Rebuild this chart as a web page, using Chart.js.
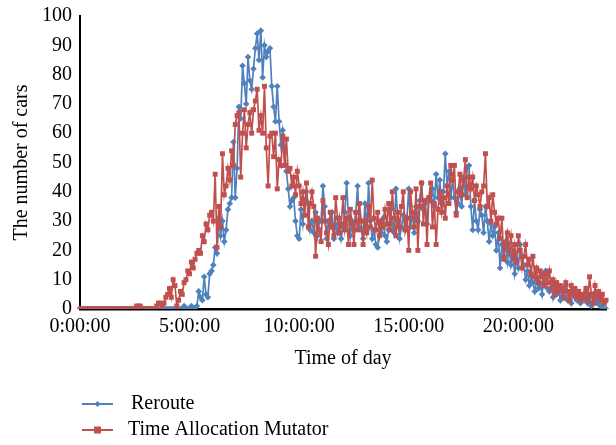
<!DOCTYPE html>
<html>
<head>
<meta charset="utf-8">
<script src="https://cdn.jsdelivr.net/npm/chart.js@4/dist/chart.umd.min.js"></script>
<style>
html,body{margin:0;padding:0;background:#fff;}
#wrap{width:616px;height:445px;position:relative;}
</style>
</head>
<body>
<div id="wrap"><canvas id="c" width="616" height="445"></canvas></div>
<script>
// Categories: time of day at 5-minute steps (0:00:00 .. 24:00:00)
const timeLabels = [];
for (let m = 0; m <= 24 * 60; m += 5) {
  const h = Math.floor(m / 60), mm = m % 60;
  timeLabels.push(h + ':' + String(mm).padStart(2, '0') + ':00');
}

const seriesNames = ['Reroute', 'Time Allocation Mutator'];

const reroute = [
  0,0,0,0,0,0,0,0,0,0,0,0,
  0,0,0,0,0,0,0,0,0,0,0,0,
  0,0,0,0,0,0,0,0,0,0,0,0,
  0,0,0,0,0,0,0,0,0,0,0,0,
  0,0,0,0,0,0,0,0,0,1,0,0,
  0,1,0,0,1,6,4,3,11,5,4,12,
  13,15,21,19,31,25,30,23,27,34,36,38,
  57,38,48,69,65,83,77,70,86,78,75,82,
  89,94,85,95,79,90,86,88,89,76,69,64,
  76,64,56,61,55,47,41,35,37,38,30,25,
  24,34,29,37,40,36,27,30,26,33,25,30,
  30,42,35,24,30,28,33,24,29,26,31,24,
  28,33,43,31,25,30,27,33,42,28,27,24,
  36,27,43,30,24,27,22,21,29,26,31,25,
  23,27,34,29,26,41,30,24,28,32,27,31,
  41,28,33,26,35,30,37,43,34,36,29,38,
  37,41,35,46,38,44,36,40,53,42,47,38,
  44,38,33,36,41,35,45,39,48,49,35,27,
  37,30,27,34,32,26,35,30,23,29,25,28,
  20,26,14,22,18,23,16,21,15,19,12,17,
  14,22,18,15,10,13,8,11,9,6,10,7,
  9,5,12,13,7,6,9,4,8,5,7,3,
  6,4,8,3,5,2,6,4,3,5,2,4,
  3,6,2,4,1,5,3,2,4,1,0,2,
  0
];

const timeAllocationMutator = [
  0,0,0,0,0,0,0,0,0,0,0,0,
  0,0,0,0,0,0,0,0,0,0,0,0,
  0,0,0,0,0,0,0,1,1,1,0,0,
  0,0,0,0,0,0,1,2,2,1,2,4,
  5,7,4,10,8,1,3,6,5,9,10,13,
  12,16,14,17,19,20,19,25,23,29,27,32,
  33,30,46,21,35,28,53,39,42,48,44,54,
  49,63,66,67,45,60,68,55,63,67,60,68,
  71,75,61,66,60,76,55,42,59,60,52,60,
  41,51,49,59,49,58,47,48,42,45,39,47,
  42,36,40,32,43,28,36,40,35,18,31,27,
  23,37,30,26,22,33,28,25,38,31,26,29,
  38,27,31,22,34,29,22,33,27,36,30,22,
  30,26,35,28,44,31,27,33,25,30,28,34,
  29,36,27,40,31,25,33,28,35,40,27,31,
  20,40,33,28,41,20,35,43,29,37,22,38,
  43,28,36,22,34,40,33,38,31,42,36,49,
  44,49,32,40,46,39,44,51,38,45,41,45,
  37,42,39,35,40,42,53,35,38,30,39,33,
  29,31,24,31,17,22,26,20,25,18,22,16,
  25,20,14,18,22,15,17,12,18,11,14,9,
  13,11,8,12,9,13,7,10,5,9,6,8,
  7,4,9,6,3,8,5,7,4,6,3,5,
  4,7,3,11,5,2,8,4,6,3,5,2,
  3
];

const yTicks = [0,10,20,30,40,50,60,70,80,90,100];
const xTickLabels = ['0:00:00','5:00:00','10:00:00','15:00:00','20:00:00'];

const BLUE = '#4F81BD';
const RED = '#C0504D';
const FONT = '"Liberation Serif", "Times New Roman", serif';

const legendPlugin = {
  id: 'vlegend',
  afterDraw(chart) {
    const ctx = chart.ctx;
    const items = chart.data.datasets;
    const x0 = 82, lineLen = 31, rows = [404, 430], textX = [131, 128];
    ctx.save();
    items.forEach((ds, i) => {
      const y = rows[i];
      ctx.strokeStyle = ds.borderColor;
      ctx.lineWidth = 2;
      ctx.beginPath();
      ctx.moveTo(x0, y);
      ctx.lineTo(x0 + lineLen, y);
      ctx.stroke();
      ctx.fillStyle = ds.borderColor;
      const cx = x0 + lineLen / 2;
      if (ds.pointStyle === 'rectRot') {
        ctx.beginPath();
        ctx.moveTo(cx, y - 3); ctx.lineTo(cx + 3, y); ctx.lineTo(cx, y + 3); ctx.lineTo(cx - 3, y);
        ctx.closePath(); ctx.fill();
      } else {
        ctx.fillRect(cx - 3.5, y - 3.5, 7, 7);
      }
      ctx.fillStyle = '#000';
      ctx.font = '20px ' + FONT;
      ctx.textBaseline = 'middle';
      ctx.textAlign = 'left';
      ctx.fillText(ds.label, textX[i], y);
    });
    ctx.restore();
  }
};

new Chart(document.getElementById('c'), {
  type: 'line',
  data: {
    labels: timeLabels,
    datasets: [
      {
        label: seriesNames[0],
        data: reroute,
        borderColor: BLUE,
        backgroundColor: BLUE,
        borderWidth: 1.7,
        pointStyle: 'rectRot',
        pointRadius: 3.3,
        pointBorderWidth: 0,
        tension: 0,
        order: 1
      },
      {
        label: seriesNames[1],
        data: timeAllocationMutator,
        borderColor: RED,
        backgroundColor: RED,
        borderWidth: 1.7,
        pointStyle: 'rect',
        pointRadius: 3.5,
        pointBorderWidth: 0,
        tension: 0,
        order: 0
      }
    ]
  },
  options: {
    responsive: false,
    animation: false,
    devicePixelRatio: 1,
    layout: { padding: { left: 10, right: 10, top: 0, bottom: 74 } },
    plugins: {
      legend: { display: false },
      tooltip: { enabled: false }
    },
    scales: {
      x: {
        type: 'category',
        offset: false,
        grid: { display: false, drawTicks: false },
        border: { display: true, color: '#000', width: 2.5 },
        ticks: {
          autoSkip: false,
          maxRotation: 0,
          minRotation: 0,
          padding: 6,
          color: '#000',
          font: { family: FONT, size: 20 },
          callback: function(val, idx) {
            const lab = timeLabels[idx];
            return xTickLabels.includes(lab) ? lab : null;
          }
        },
        title: {
          display: true,
          text: 'Time of day',
          color: '#000',
          font: { family: FONT, size: 20 },
          padding: { top: 2, bottom: 0 }
        }
      },
      y: {
        min: yTicks[0],
        max: yTicks[yTicks.length - 1],
        grid: { display: false, drawTicks: false },
        border: { display: true, color: '#000', width: 2 },
        afterBuildTicks: (axis) => { axis.ticks = yTicks.map(v => ({ value: v })); },
        ticks: {
          padding: 8,
          color: '#000',
          font: { family: FONT, size: 20, lineHeight: 0.8 }
        },
        title: {
          display: true,
          text: 'The number of cars',
          color: '#000',
          font: { family: FONT, size: 20 },
          padding: { top: 0, bottom: 0 }
        }
      }
    }
  },
  plugins: [legendPlugin]
});
</script>
</body>
</html>
